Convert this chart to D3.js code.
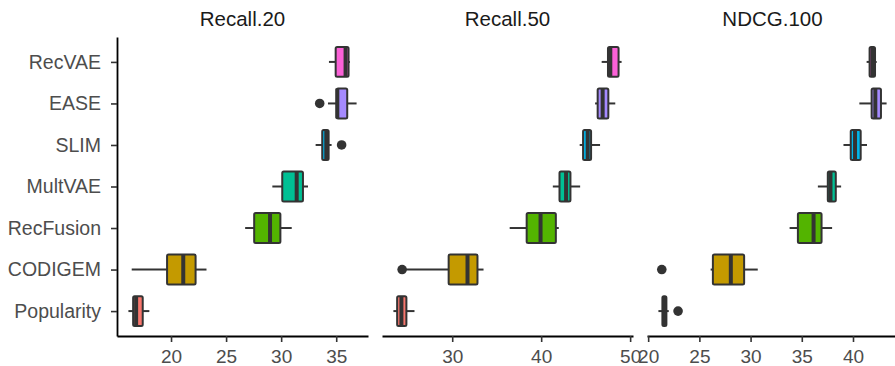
<!DOCTYPE html>
<html>
<head>
<meta charset="utf-8">
<script src="https://cdn.jsdelivr.net/npm/d3@7"></script>
<style>
  body { margin: 0; background: #fff; }
  svg { display: block; font-family: "Liberation Sans", Arial, Helvetica, sans-serif; }
</style>
</head>
<body>
<div id="chart"></div>
<script>
// methods, bottom to top
var methods = ["Popularity", "CODIGEM", "RecFusion", "MultVAE", "SLIM", "EASE", "RecVAE"];
var methodColors = ["#F8766D", "#C49A00", "#53B400", "#00C094", "#00B6EB", "#A58AFF", "#FB61D7"];

var metrics = ["Recall.20", "Recall.50", "NDCG.100"];

// box stats per method: [lower whisker, q1, median, q3, upper whisker]
var recall20Stats = [
    [16.13, 16.56, 16.83, 17.43, 18.03],
    [16.43, 19.64, 21.11, 22.23, 23.22],
    [26.73, 27.55, 28.99, 29.93, 30.96],
    [29.20, 30.10, 31.41, 31.98, 32.44],
    [33.13, 33.73, 34.10, 34.31, 34.58],
    [34.25, 35.04, 35.10, 36.00, 36.85],
    [34.34, 34.95, 35.85, 36.12, 36.24]
];
var recall20Outliers = [[], [], [], [], [35.49], [33.50], []];

var recall50Stats = [
    [23.39, 23.81, 24.29, 24.85, 25.76],
    [24.45, 29.60, 31.72, 32.84, 33.52],
    [36.46, 38.37, 39.93, 41.65, 41.98],
    [41.31, 42.06, 42.80, 43.29, 44.38],
    [44.33, 44.71, 45.23, 45.61, 46.62],
    [46.06, 46.35, 46.91, 47.55, 48.33],
    [46.80, 47.51, 47.77, 48.70, 49.04]
];
var recall50Outliers = [[], [24.37], [], [], [], [], []];

var ndcg100Stats = [
    [21.00, 21.39, 21.60, 21.78, 22.01],
    [26.10, 26.32, 28.07, 29.37, 30.70],
    [33.81, 34.62, 36.15, 36.93, 37.96],
    [36.57, 37.54, 37.80, 38.32, 38.84],
    [39.07, 39.78, 40.20, 40.75, 41.37],
    [40.62, 41.82, 42.18, 42.73, 43.28],
    [41.33, 41.62, 41.90, 42.15, 42.31]
];
var ndcg100Outliers = [[22.92], [21.33], [], [], [], [], []];

var xTicks = [[20, 25, 30, 35], [30, 40, 50], [20, 25, 30, 35, 40]];

var panels = [
    {name: metrics[0], stats: recall20Stats, outliers: recall20Outliers, ticks: xTicks[0]},
    {name: metrics[1], stats: recall50Stats, outliers: recall50Outliers, ticks: xTicks[1]},
    {name: metrics[2], stats: ndcg100Stats, outliers: ndcg100Outliers, ticks: xTicks[2]}
];

var width = 895, height = 366;
var panelTop = 37, panelBottom = 336;
var panelLeft = 117, panelWidth = 251, panelGap = 14;
var dark = "#333333";

var svg = d3.select("#chart").append("svg")
    .attr("width", width)
    .attr("height", height);

// shared y scale (discrete, ggplot-like 0.6 expansion)
var y = d3.scalePoint()
    .domain(methods)
    .range([panelBottom, panelTop])
    .padding(0.6);
var boxH = y.step() * 0.72;

panels.forEach(function (p, pi) {
    var x0 = panelLeft + pi * (panelWidth + panelGap);

    // x domain from data extent + 5% expansion
    var vals = [];
    p.stats.forEach(function (s) { vals = vals.concat(s); });
    p.outliers.forEach(function (o) { vals = vals.concat(o); });
    var ext = d3.extent(vals), pad = (ext[1] - ext[0]) * 0.05;
    var x = d3.scaleLinear()
        .domain([ext[0] - pad, ext[1] + pad])
        .range([x0, x0 + panelWidth]);

    var g = svg.append("g");

    // strip title
    g.append("text")
        .attr("x", x0 + panelWidth / 2)
        .attr("y", 26)
        .attr("text-anchor", "middle")
        .style("font-size", "20.5px")
        .style("fill", "#1A1A1A")
        .text(p.name);

    // x axis
    var xa = g.append("g")
        .attr("transform", "translate(0," + panelBottom + ")")
        .call(d3.axisBottom(x).tickValues(p.ticks).tickSize(6).tickSizeOuter(0).tickPadding(8));
    xa.select(".domain").attr("stroke", "#000").attr("stroke-width", 1.8);
    xa.selectAll(".tick line").attr("stroke", dark).attr("stroke-width", 1.6);
    xa.selectAll(".tick text").style("font-size", "19px").style("fill", "#4D4D4D")
        .attr("font-family", null);

    // boxes
    var rows = g.selectAll(".row")
        .data(methods)
        .enter().append("g")
        .attr("class", "row");

    rows.each(function (m, i) {
        var s = p.stats[i], cy = y(m), r = d3.select(this);
        r.append("line")
            .attr("x1", x(s[0])).attr("x2", x(s[1]))
            .attr("y1", cy).attr("y2", cy)
            .attr("stroke", dark).attr("stroke-width", 2);
        r.append("line")
            .attr("x1", x(s[3])).attr("x2", x(s[4]))
            .attr("y1", cy).attr("y2", cy)
            .attr("stroke", dark).attr("stroke-width", 2);
        r.append("rect")
            .attr("x", x(s[1]))
            .attr("width", x(s[3]) - x(s[1]))
            .attr("y", cy - boxH / 2)
            .attr("height", boxH)
            .attr("rx", 1.5)
            .attr("fill", methodColors[i])
            .attr("stroke", dark)
            .attr("stroke-width", 2);
        r.append("line")
            .attr("x1", x(s[2])).attr("x2", x(s[2]))
            .attr("y1", cy - boxH / 2).attr("y2", cy + boxH / 2)
            .attr("stroke", dark).attr("stroke-width", 4);
        r.selectAll("circle")
            .data(p.outliers[i])
            .enter().append("circle")
            .attr("cx", function (d) { return x(d); })
            .attr("cy", cy)
            .attr("r", 4.8)
            .attr("fill", dark);
    });

    // y axis only on the first panel
    if (pi == 0) {
        var ya = g.append("g")
            .attr("transform", "translate(" + x0 + ",0)")
            .call(d3.axisLeft(y).tickSize(6).tickSizeOuter(0).tickPadding(10));
        ya.select(".domain").attr("stroke", "#000").attr("stroke-width", 1.8);
        ya.selectAll(".tick line").attr("stroke", dark).attr("stroke-width", 1.6);
        ya.selectAll(".tick text").style("font-size", "19.5px").style("fill", "#4D4D4D")
            .attr("font-family", null);
    }
});
</script>
</body>
</html>
